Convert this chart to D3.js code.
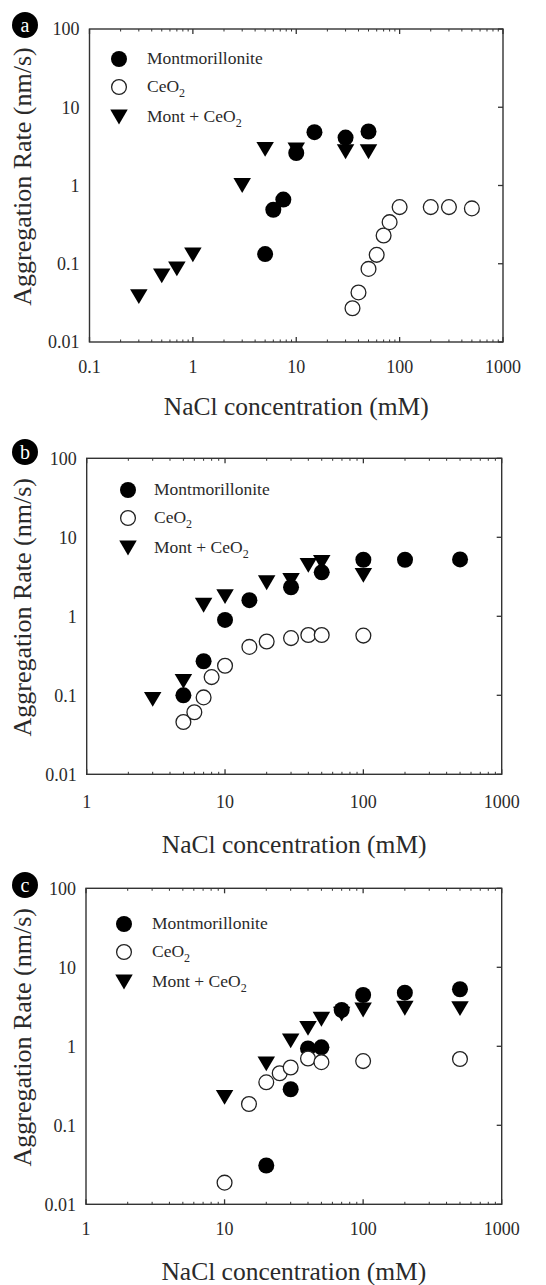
<!DOCTYPE html>
<html><head><meta charset="utf-8">
<script src="https://cdn.jsdelivr.net/npm/d3@7"></script>
<style>body{margin:0;background:#fff} svg{display:block}</style>
</head><body>
<svg id="chart" width="546" height="1285"></svg>
<script>
// ---------- DATA ----------
const panelLabels = ["a", "b", "c"];
const seriesNames = ["Montmorillonite", "CeO2", "Mont + CeO2"];
const yTickValues = [0.01, 0.1, 1, 10, 100];
const yTickLabels = ["0.01", "0.1", "1", "10", "100"];
const xTickValuesA = [0.1, 1, 10, 100, 1000];
const xTickLabelsA = ["0.1", "1", "10", "100", "1000"];
const xTickValuesBC = [1, 10, 100, 1000];
const xTickLabelsBC = ["1", "10", "100", "1000"];
const xTitle = "NaCl concentration (mM)";
const yTitle = "Aggregation Rate (nm/s)";

// Panel a
const aMontX = [5, 6, 7.5, 10, 15, 30, 50];
const aMontY = [0.133, 0.49, 0.66, 2.6, 4.8, 4.1, 4.9];
const aCeX = [35, 40, 50, 60, 70, 80, 100, 200, 300, 500];
const aCeY = [0.027, 0.043, 0.086, 0.13, 0.23, 0.34, 0.53, 0.53, 0.53, 0.51];
const aMixX = [0.3, 0.5, 0.7, 1, 3, 5, 10, 30, 50];
const aMixY = [0.038, 0.07, 0.086, 0.13, 1.0, 2.9, 2.85, 2.7, 2.7];

// Panel b
const bMontX = [5, 7, 10, 15, 30, 50, 100, 200, 500];
const bMontY = [0.10, 0.27, 0.9, 1.6, 2.33, 3.6, 5.2, 5.2, 5.25];
const bCeX = [5, 6, 7, 8, 10, 15, 20, 30, 40, 50, 100];
const bCeY = [0.046, 0.061, 0.094, 0.17, 0.237, 0.41, 0.48, 0.53, 0.58, 0.58, 0.57];
const bMixX = [3, 5, 7, 10, 20, 30, 40, 50, 100];
const bMixY = [0.089, 0.15, 1.38, 1.77, 2.66, 2.85, 4.4, 4.8, 3.3];

// Panel c
const cMontX = [20, 30, 40, 50, 70, 100, 200, 500];
const cMontY = [0.031, 0.286, 0.94, 0.97, 2.88, 4.46, 4.77, 5.27];
const cCeX = [10, 15, 20, 25, 30, 40, 50, 100, 500];
const cCeY = [0.0188, 0.186, 0.35, 0.455, 0.54, 0.70, 0.63, 0.65, 0.69];
const cMixX = [10, 20, 30, 40, 50, 70, 100, 200, 500];
const cMixY = [0.226, 0.60, 1.17, 1.69, 2.2, 2.56, 2.88, 3.03, 3.0];

// ---------- LAYOUT ----------
const layout = [
  {left: 89.5, right: 503, top: 29, bottom: 342, xDomain: [0.1, 1000], xTicks: xTickValuesA, xLabels: xTickLabelsA,
   badgeY: 25, legX: 119, legY: 59, legTextX: 147, tickDy: 31, titleDy: 73},
  {left: 86.7, right: 501.7, top: 458.3, bottom: 774.3, xDomain: [1, 1000], xTicks: xTickValuesBC, xLabels: xTickLabelsBC,
   badgeY: 452, legX: 128, legY: 490, legTextX: 154, tickDy: 34, titleDy: 79},
  {left: 86, right: 501.7, top: 888.3, bottom: 1204.3, xDomain: [1, 1000], xTicks: xTickValuesBC, xLabels: xTickLabelsBC,
   badgeY: 885, legX: 124, legY: 924, legTextX: 152, tickDy: 31, titleDy: 76}
];
const panelData = [
  {mont: [aMontX, aMontY], ce: [aCeX, aCeY], mix: [aMixX, aMixY]},
  {mont: [bMontX, bMontY], ce: [bCeX, bCeY], mix: [bMixX, bMixY]},
  {mont: [cMontX, cMontY], ce: [cCeX, cCeY], mix: [cMixX, cMixY]}
];

const svg = d3.select("#chart");
const FONT = "'Liberation Serif', 'Times New Roman', serif";
const AX = "#333";
const TXT = "#2a2a2a";
const R = 8;
const triW = 17.5, triH = 14.8;
const triPath = `M${-triW/2},${-triH/2}L${triW/2},${-triH/2}L0,${triH/2}Z`;

function zip(xs, ys) { return xs.map((x, i) => ({x, y: ys[i]})); }

layout.forEach((L, pi) => {
  const D = panelData[pi];
  const x = d3.scaleLog().domain(L.xDomain).range([L.left, L.right]);
  const y = d3.scaleLog().domain([0.01, 100]).range([L.bottom, L.top]);
  const g = svg.append("g");

  // minor ticks (x), top and bottom, inward
  const [x0, x1] = L.xDomain;
  const minor = [];
  for (let e = Math.log10(x0); e < Math.log10(x1); e++) {
    for (let m = 2; m <= 9; m++) minor.push(m * Math.pow(10, e));
  }
  const tickG = g.append("g").attr("stroke", AX).attr("stroke-width", 1);
  minor.forEach(v => {
    tickG.append("line").attr("x1", x(v)).attr("x2", x(v)).attr("y1", L.bottom).attr("y2", L.bottom - 2.5);
    tickG.append("line").attr("x1", x(v)).attr("x2", x(v)).attr("y1", L.top).attr("y2", L.top + 2.5);
  });
  L.xTicks.forEach(v => {
    tickG.append("line").attr("x1", x(v)).attr("x2", x(v)).attr("y1", L.bottom).attr("y2", L.bottom - 5).attr("stroke-width", 1.3);
    tickG.append("line").attr("x1", x(v)).attr("x2", x(v)).attr("y1", L.top).attr("y2", L.top + 5).attr("stroke-width", 1.3);
  });
  yTickValues.forEach(v => {
    tickG.append("line").attr("x1", L.right).attr("x2", L.right - 5).attr("y1", y(v)).attr("y2", y(v)).attr("stroke-width", 1.3);
  });

  // frame
  g.append("rect").attr("x", L.left).attr("y", L.top)
    .attr("width", L.right - L.left).attr("height", L.bottom - L.top)
    .attr("fill", "none").attr("stroke", AX).attr("stroke-width", 1.4);

  // tick labels
  g.selectAll(".xl").data(L.xTicks).enter().append("text")
    .attr("x", d => x(d)).attr("y", L.bottom + L.tickDy)
    .attr("text-anchor", "middle").attr("font-family", FONT).attr("font-size", 18).attr("fill", TXT)
    .text((d, i) => L.xLabels[i]);
  g.selectAll(".yl").data(yTickValues).enter().append("text")
    .attr("x", L.left - 10).attr("y", d => y(d)).attr("dy", "0.36em")
    .attr("text-anchor", "end").attr("font-family", FONT).attr("font-size", 18).attr("fill", TXT)
    .text((d, i) => yTickLabels[i]);

  // axis titles
  g.append("text").attr("x", (L.left + L.right) / 2).attr("y", L.bottom + L.titleDy)
    .attr("text-anchor", "middle").attr("font-family", FONT).attr("font-size", 25.5).attr("fill", TXT)
    .text(xTitle);
  g.append("text").attr("transform", `translate(31,${(L.top + L.bottom) / 2 - 9}) rotate(-90)`)
    .attr("text-anchor", "middle").attr("font-family", FONT).attr("font-size", 26).attr("fill", TXT)
    .text(yTitle);

  // badge
  g.append("circle").attr("cx", 25).attr("cy", L.badgeY).attr("r", 13).attr("fill", "#000");
  g.append("text").attr("x", 25).attr("y", L.badgeY).attr("dy", "0.33em").attr("text-anchor", "middle")
    .attr("font-family", FONT).attr("font-size", 20).attr("fill", "#fff").text(panelLabels[pi]);

  // data: mont (filled), mix (triangles), CeO2 (open, white fill) on top
  g.selectAll(".mont").data(zip(D.mont[0], D.mont[1])).enter().append("circle")
    .attr("cx", d => x(d.x)).attr("cy", d => y(d.y)).attr("r", R).attr("fill", "#000");
  g.selectAll(".mix").data(zip(D.mix[0], D.mix[1])).enter().append("path")
    .attr("d", triPath).attr("transform", d => `translate(${x(d.x)},${y(d.y)})`).attr("fill", "#000");
  g.selectAll(".ce").data(zip(D.ce[0], D.ce[1])).enter().append("circle")
    .attr("cx", d => x(d.x)).attr("cy", d => y(d.y)).attr("r", R - 0.6)
    .attr("fill", "#fff").attr("stroke", "#222").attr("stroke-width", 1.3);

  // legend
  const rows = [0, 28, 58];
  const lg = g.append("g");
  lg.append("circle").attr("cx", L.legX).attr("cy", L.legY + rows[0]).attr("r", R).attr("fill", "#000");
  lg.append("circle").attr("cx", L.legX).attr("cy", L.legY + rows[1]).attr("r", R - 0.6)
    .attr("fill", "#fff").attr("stroke", "#222").attr("stroke-width", 1.3);
  lg.append("path").attr("d", triPath).attr("transform", `translate(${L.legX},${L.legY + rows[2]})`).attr("fill", "#000");

  const names = seriesNames;
  names.forEach((n, i) => {
    const t = lg.append("text").attr("x", L.legTextX).attr("y", L.legY + rows[i]).attr("dy", "0.3em")
      .attr("font-family", FONT).attr("font-size", 17.5).attr("fill", TXT);
    if (n.endsWith("O2")) {
      t.append("tspan").text(n.slice(0, -1));
      t.append("tspan").attr("font-size", 12).attr("dy", 5).text("2");
    } else {
      t.text(n);
    }
  });
});
</script>
</body></html>
